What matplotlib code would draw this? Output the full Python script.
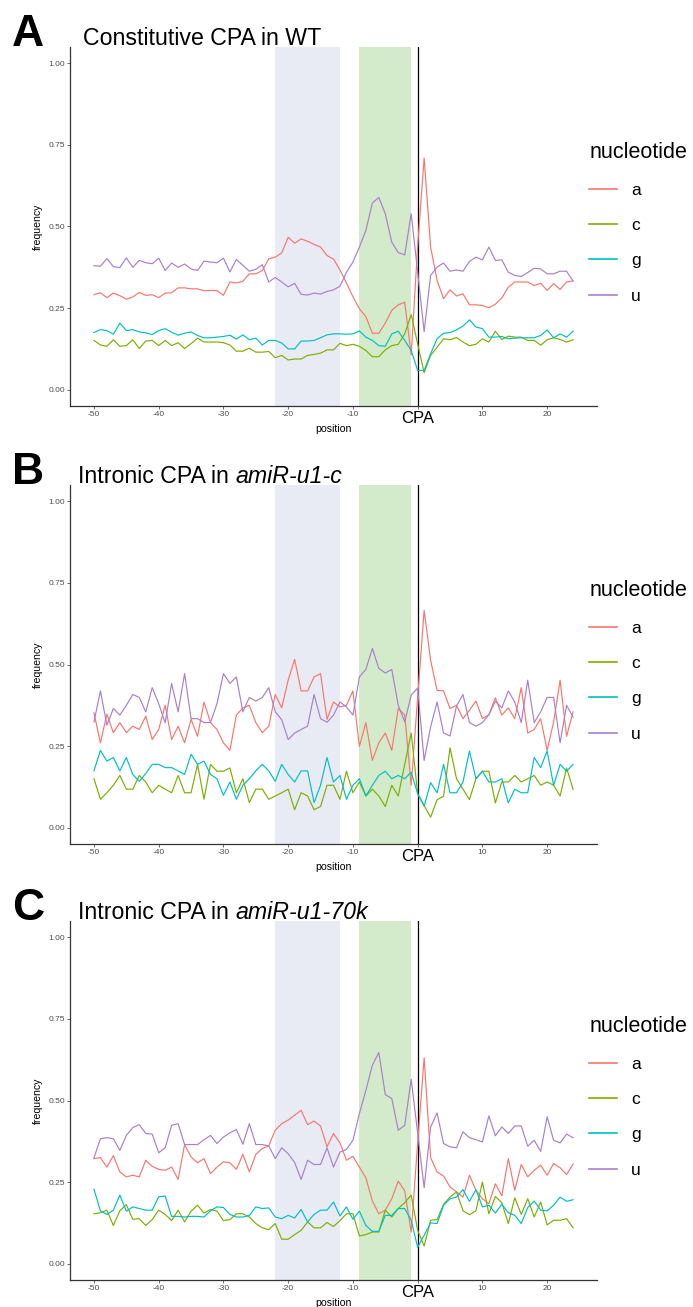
import matplotlib
matplotlib.use("Agg")
import matplotlib.pyplot as plt
from matplotlib.lines import Line2D

plt.rcParams['font.family'] = ['Liberation Sans', 'DejaVu Sans']

positions = list(range(-50, 25))
nucleotides = ["a", "c", "g", "u"]
colors = {"a": "#F8766D", "c": "#7CAE00", "g": "#00BFC4", "u": "#A97FCB"}

# panel A - constitutive CPA in WT
wt_a = [0.291, 0.297, 0.282, 0.296, 0.288, 0.277, 0.284, 0.298, 0.289, 0.291,
        0.282, 0.296, 0.297, 0.312, 0.312, 0.309, 0.309, 0.303, 0.304, 0.304,
        0.289, 0.330, 0.327, 0.332, 0.355, 0.355, 0.365, 0.401, 0.406, 0.419,
        0.467, 0.449, 0.462, 0.455, 0.445, 0.437, 0.411, 0.400, 0.367, 0.327,
        0.285, 0.248, 0.224, 0.173, 0.173, 0.204, 0.243, 0.260, 0.268, 0.107,
        0.440, 0.710, 0.437, 0.335, 0.279, 0.306, 0.287, 0.294, 0.260, 0.260,
        0.258, 0.251, 0.262, 0.281, 0.314, 0.330, 0.330, 0.330, 0.319, 0.326,
        0.304, 0.325, 0.307, 0.330, 0.333]
wt_c = [0.151, 0.137, 0.133, 0.153, 0.133, 0.135, 0.153, 0.126, 0.149, 0.151,
        0.135, 0.151, 0.135, 0.144, 0.126, 0.141, 0.158, 0.146, 0.146, 0.146,
        0.144, 0.137, 0.118, 0.118, 0.127, 0.115, 0.115, 0.117, 0.098, 0.105,
        0.091, 0.094, 0.094, 0.105, 0.108, 0.112, 0.122, 0.122, 0.142, 0.135,
        0.139, 0.133, 0.120, 0.101, 0.101, 0.122, 0.135, 0.139, 0.171, 0.230,
        0.140, 0.052, 0.105, 0.130, 0.156, 0.153, 0.160, 0.146, 0.135, 0.139,
        0.156, 0.146, 0.179, 0.154, 0.164, 0.161, 0.161, 0.151, 0.151, 0.136,
        0.153, 0.159, 0.154, 0.146, 0.153]
wt_g = [0.175, 0.184, 0.181, 0.170, 0.204, 0.181, 0.184, 0.177, 0.174, 0.169,
        0.181, 0.187, 0.176, 0.167, 0.173, 0.177, 0.166, 0.159, 0.159, 0.161,
        0.163, 0.167, 0.155, 0.168, 0.153, 0.158, 0.137, 0.151, 0.151, 0.143,
        0.125, 0.125, 0.149, 0.149, 0.151, 0.159, 0.168, 0.171, 0.171, 0.170,
        0.171, 0.180, 0.161, 0.151, 0.135, 0.133, 0.171, 0.179, 0.151, 0.120,
        0.059, 0.059, 0.110, 0.156, 0.173, 0.175, 0.183, 0.195, 0.214, 0.192,
        0.187, 0.161, 0.161, 0.163, 0.156, 0.158, 0.159, 0.159, 0.159, 0.166,
        0.183, 0.159, 0.171, 0.161, 0.179]
wt_u = [0.380, 0.378, 0.402, 0.377, 0.374, 0.404, 0.375, 0.396, 0.389, 0.386,
        0.403, 0.365, 0.388, 0.375, 0.385, 0.370, 0.365, 0.394, 0.391, 0.389,
        0.403, 0.361, 0.399, 0.381, 0.363, 0.369, 0.383, 0.330, 0.344, 0.330,
        0.315, 0.326, 0.292, 0.290, 0.296, 0.293, 0.301, 0.306, 0.317, 0.360,
        0.391, 0.437, 0.488, 0.572, 0.589, 0.539, 0.452, 0.420, 0.413, 0.539,
        0.360, 0.178, 0.350, 0.376, 0.388, 0.363, 0.367, 0.363, 0.393, 0.406,
        0.398, 0.437, 0.396, 0.398, 0.360, 0.350, 0.347, 0.359, 0.372, 0.370,
        0.355, 0.355, 0.363, 0.363, 0.333]

# panel B - intronic CPA in amiR-u1-c
u1c_a = [0.352, 0.260, 0.348, 0.291, 0.322, 0.291, 0.311, 0.301, 0.342, 0.270,
         0.301, 0.375, 0.270, 0.311, 0.260, 0.332, 0.280, 0.385, 0.322, 0.301,
         0.260, 0.237, 0.345, 0.367, 0.375, 0.322, 0.291, 0.311, 0.408, 0.367,
         0.452, 0.516, 0.419, 0.419, 0.462, 0.472, 0.332, 0.385, 0.370, 0.375,
         0.419, 0.249, 0.322, 0.206, 0.260, 0.290, 0.237, 0.365, 0.345, 0.130,
         0.400, 0.666, 0.513, 0.421, 0.419, 0.365, 0.375, 0.334, 0.360, 0.388,
         0.334, 0.346, 0.398, 0.345, 0.367, 0.334, 0.429, 0.290, 0.301, 0.334,
         0.237, 0.324, 0.452, 0.280, 0.355]
u1c_c = [0.150, 0.087, 0.107, 0.130, 0.160, 0.118, 0.118, 0.160, 0.140, 0.107,
         0.130, 0.118, 0.107, 0.160, 0.107, 0.107, 0.194, 0.087, 0.194, 0.173,
         0.173, 0.183, 0.107, 0.150, 0.077, 0.118, 0.118, 0.087, 0.097, 0.107,
         0.118, 0.055, 0.107, 0.097, 0.055, 0.065, 0.130, 0.130, 0.087, 0.173,
         0.107, 0.140, 0.097, 0.118, 0.097, 0.065, 0.130, 0.097, 0.194, 0.290,
         0.104, 0.068, 0.032, 0.086, 0.096, 0.245, 0.150, 0.118, 0.086, 0.150,
         0.173, 0.173, 0.076, 0.140, 0.140, 0.160, 0.140, 0.150, 0.160, 0.130,
         0.140, 0.130, 0.097, 0.183, 0.118]
u1c_g = [0.174, 0.237, 0.204, 0.215, 0.174, 0.215, 0.163, 0.142, 0.166, 0.194,
         0.194, 0.184, 0.184, 0.174, 0.163, 0.225, 0.194, 0.204, 0.163, 0.150,
         0.099, 0.140, 0.087, 0.130, 0.150, 0.174, 0.194, 0.174, 0.142, 0.194,
         0.163, 0.140, 0.174, 0.174, 0.077, 0.130, 0.215, 0.140, 0.160, 0.087,
         0.130, 0.150, 0.097, 0.130, 0.160, 0.173, 0.150, 0.160, 0.150, 0.170,
         0.104, 0.066, 0.138, 0.107, 0.194, 0.107, 0.107, 0.140, 0.235, 0.150,
         0.173, 0.140, 0.140, 0.150, 0.076, 0.118, 0.107, 0.107, 0.215, 0.184,
         0.235, 0.130, 0.194, 0.173, 0.194]
u1c_u = [0.324, 0.419, 0.314, 0.365, 0.345, 0.375, 0.408, 0.399, 0.355, 0.429,
         0.380, 0.322, 0.442, 0.355, 0.472, 0.334, 0.334, 0.322, 0.322, 0.380,
         0.472, 0.442, 0.462, 0.355, 0.399, 0.388, 0.399, 0.429, 0.355, 0.331,
         0.270, 0.290, 0.301, 0.311, 0.408, 0.334, 0.323, 0.345, 0.385, 0.370,
         0.345, 0.462, 0.485, 0.549, 0.488, 0.474, 0.485, 0.375, 0.324, 0.406,
         0.428, 0.206, 0.309, 0.385, 0.290, 0.281, 0.373, 0.408, 0.322, 0.311,
         0.322, 0.346, 0.388, 0.367, 0.419, 0.385, 0.322, 0.452, 0.322, 0.355,
         0.399, 0.399, 0.260, 0.375, 0.339]

# panel C - intronic CPA in amiR-u1-70k
u70k_a = [0.322, 0.325, 0.296, 0.331, 0.281, 0.266, 0.271, 0.266, 0.317, 0.298,
          0.289, 0.286, 0.296, 0.258, 0.365, 0.327, 0.309, 0.322, 0.276, 0.296,
          0.312, 0.309, 0.289, 0.335, 0.281, 0.335, 0.353, 0.361, 0.409, 0.429,
          0.440, 0.455, 0.470, 0.426, 0.437, 0.422, 0.358, 0.399, 0.370, 0.317,
          0.329, 0.296, 0.263, 0.192, 0.153, 0.164, 0.199, 0.253, 0.223, 0.097,
          0.370, 0.631, 0.325, 0.281, 0.269, 0.235, 0.220, 0.204, 0.271, 0.225,
          0.199, 0.184, 0.245, 0.208, 0.322, 0.225, 0.304, 0.266, 0.286, 0.302,
          0.271, 0.307, 0.294, 0.273, 0.305]
u70k_c = [0.153, 0.156, 0.164, 0.117, 0.162, 0.181, 0.136, 0.138, 0.117, 0.135,
          0.164, 0.151, 0.132, 0.164, 0.128, 0.161, 0.179, 0.155, 0.166, 0.161,
          0.132, 0.135, 0.153, 0.153, 0.143, 0.123, 0.110, 0.104, 0.123, 0.075,
          0.075, 0.089, 0.102, 0.128, 0.110, 0.110, 0.126, 0.114, 0.132, 0.153,
          0.153, 0.085, 0.089, 0.097, 0.097, 0.164, 0.143, 0.169, 0.187, 0.210,
          0.102, 0.054, 0.133, 0.135, 0.182, 0.204, 0.220, 0.162, 0.150, 0.162,
          0.250, 0.153, 0.206, 0.187, 0.123, 0.202, 0.151, 0.199, 0.143, 0.189,
          0.119, 0.133, 0.133, 0.138, 0.110]
u70k_g = [0.228, 0.162, 0.151, 0.164, 0.210, 0.161, 0.174, 0.169, 0.164, 0.164,
          0.205, 0.207, 0.145, 0.145, 0.143, 0.145, 0.145, 0.143, 0.162, 0.174,
          0.172, 0.151, 0.143, 0.143, 0.148, 0.174, 0.169, 0.171, 0.143, 0.138,
          0.148, 0.140, 0.166, 0.128, 0.151, 0.164, 0.164, 0.189, 0.146, 0.174,
          0.136, 0.161, 0.117, 0.099, 0.099, 0.148, 0.148, 0.169, 0.169, 0.133,
          0.050, 0.087, 0.125, 0.123, 0.179, 0.199, 0.204, 0.227, 0.191, 0.227,
          0.174, 0.179, 0.155, 0.182, 0.156, 0.148, 0.123, 0.172, 0.192, 0.164,
          0.162, 0.179, 0.204, 0.191, 0.196]
u70k_u = [0.324, 0.383, 0.386, 0.383, 0.347, 0.393, 0.417, 0.426, 0.399, 0.397,
          0.340, 0.355, 0.424, 0.429, 0.365, 0.365, 0.365, 0.380, 0.393, 0.368,
          0.388, 0.401, 0.411, 0.366, 0.429, 0.365, 0.365, 0.361, 0.322, 0.355,
          0.337, 0.310, 0.258, 0.317, 0.304, 0.304, 0.355, 0.296, 0.342, 0.350,
          0.378, 0.460, 0.531, 0.608, 0.647, 0.518, 0.506, 0.409, 0.424, 0.565,
          0.400, 0.233, 0.419, 0.462, 0.368, 0.358, 0.355, 0.404, 0.386, 0.380,
          0.373, 0.453, 0.392, 0.419, 0.399, 0.422, 0.422, 0.360, 0.378, 0.344,
          0.450, 0.378, 0.370, 0.397, 0.386]

panels = [
    ("A", "Constitutive CPA in WT", "", [wt_a, wt_c, wt_g, wt_u]),
    ("B", "Intronic CPA in ", "amiR-u1-c", [u1c_a, u1c_c, u1c_g, u1c_u]),
    ("C", "Intronic CPA in ", "amiR-u1-70k", [u70k_a, u70k_c, u70k_g, u70k_u]),
]

x_ticks = [-50, -40, -30, -20, -10, 0, 10, 20]
x_ticklabels = ["-50", "-40", "-30", "-20", "-10", "CPA", "10", "20"]
y_ticks = [0.0, 0.25, 0.5, 0.75, 1.0]
y_ticklabels = ["0.00", "0.25", "0.50", "0.75", "1.00"]

W, H = 693, 1307
fig = plt.figure(figsize=(W / 100, H / 100), dpi=100)
renderer = fig.canvas.get_renderer()

axes_tops = [47, 485, 921]
ax_h = 359
for (letter, title, title_it, series), top in zip(panels, axes_tops):
    ax = fig.add_axes([70 / W, 1 - (top + ax_h) / H, 527 / W, ax_h / H])
    ax.axvspan(-22, -12, color="#E8EBF4", lw=0, zorder=0)
    ax.axvspan(-9, -1, color="#D4EBCB", lw=0, zorder=0)
    ax.axvline(0, color="black", lw=0.9, zorder=1)
    for nt, vals in zip(nucleotides, series):
        ax.plot(positions, vals, color=colors[nt], lw=0.85, label=nt, zorder=2)

    ax.set_xlim(-53.7, 27.7)
    ax.set_ylim(-0.05, 1.05)
    ax.set_xticks(x_ticks)
    ax.set_xticklabels(x_ticklabels)
    ax.set_yticks(y_ticks)
    ax.set_yticklabels(y_ticklabels)
    ax.tick_params(direction="out", length=2.2, width=0.5, color="#333333",
                   labelsize=6, labelcolor="#4D4D4D", pad=1.5)
    cpa = ax.get_xticklabels()[5]
    cpa.set_fontsize(12)
    cpa.set_color("black")
    for s in ["top", "right"]:
        ax.spines[s].set_visible(False)
    for s in ["left", "bottom"]:
        ax.spines[s].set_color("#333333")
        ax.spines[s].set_linewidth(0.9)
    ax.set_xlabel("position", fontsize=7.6)
    ax.xaxis.set_label_coords(0.5, -18 / ax_h)
    ax.set_ylabel("frequency", fontsize=7.6, labelpad=4)

    handles = [Line2D([], [], color=colors[nt], lw=1.2) for nt in nucleotides]
    ax.legend(handles, nucleotides, title="nucleotide", loc="upper left",
              bbox_to_anchor=(0.985, 0.735), frameon=False, fontsize=12.5,
              title_fontsize=15.5, handlelength=1.6, handletextpad=0.8,
              labelspacing=1.15, borderpad=0, borderaxespad=0,
              alignment="left")

    # panel letter and title
    fig.text(12 / W, 1 - (top - 1) / H, letter, fontsize=32, fontweight="bold",
             va="baseline", ha="left")
    t = fig.text((83 if letter == "A" else 78) / W, 1 - (top - 2) / H, title,
                 fontsize=16.7, va="baseline", ha="left")
    if title_it:
        bb = t.get_window_extent(renderer)
        fig.text(bb.x1 / W, 1 - (top - 2) / H, title_it, fontsize=16.7,
                 style="italic", va="baseline", ha="left")

fig.savefig("out.png", dpi=100)
